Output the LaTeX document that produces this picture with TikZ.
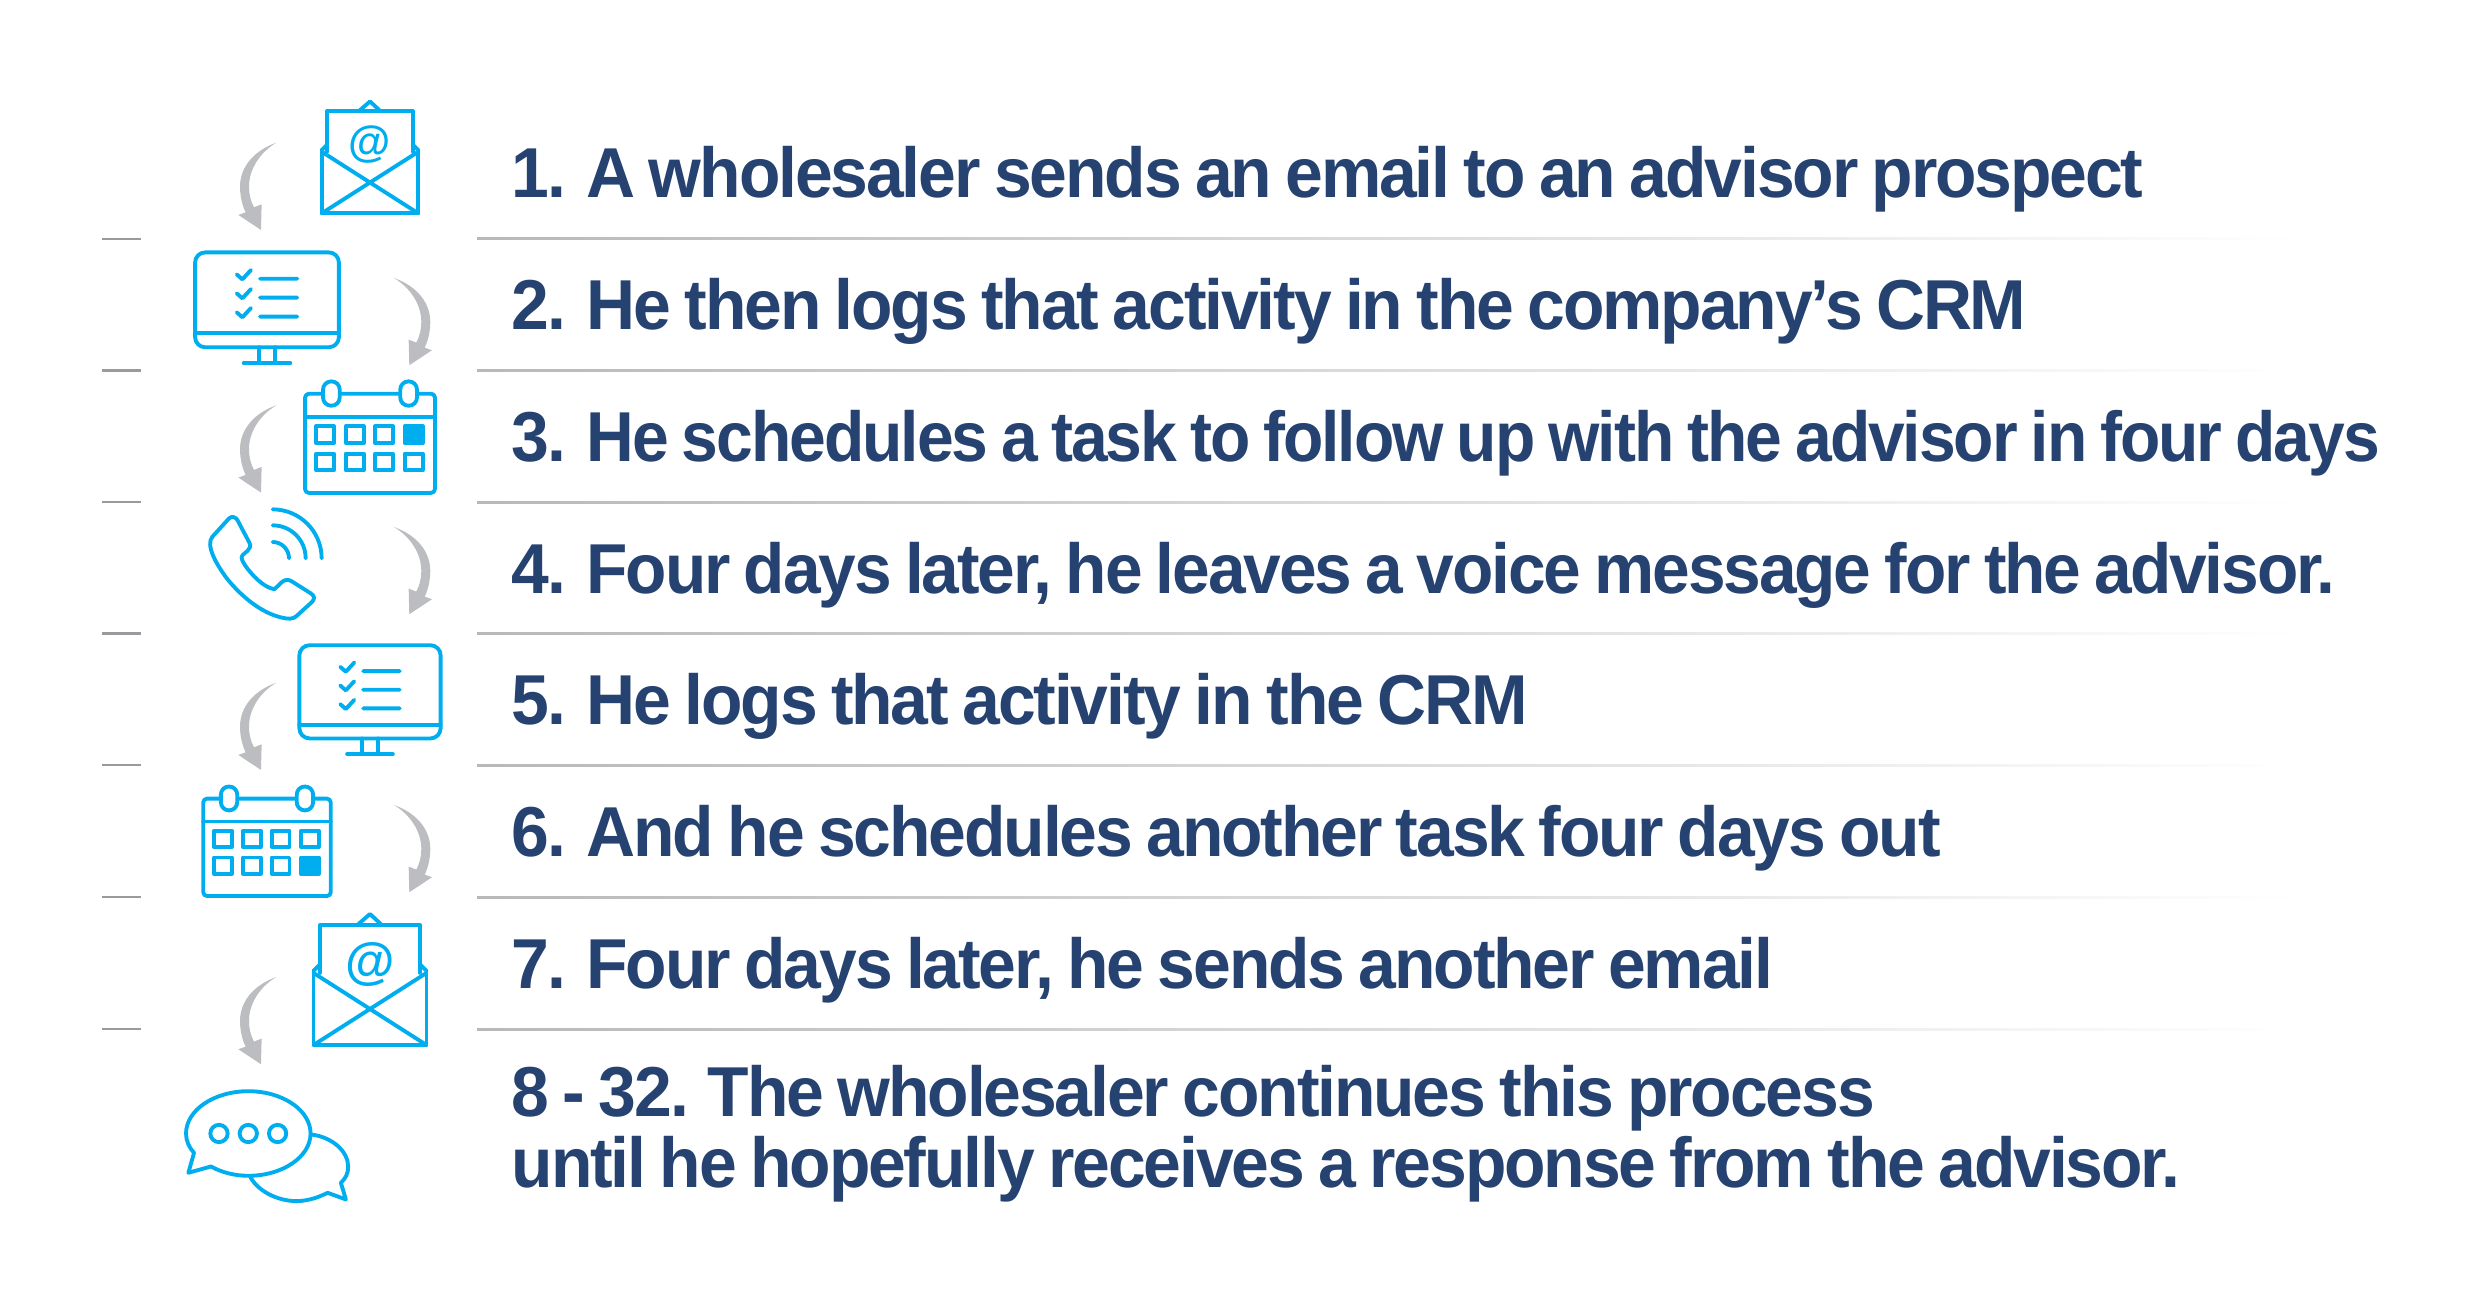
\documentclass[tikz,border=0pt]{standalone}
\usepackage{fontspec}
\usepackage{graphicx}
\setmainfont{Liberation Sans}
\newfontfamily\stepfont[FakeStretch=0.96,LetterSpace=-3,WordSpace=0.8]{Liberation Sans}
\usetikzlibrary{positioning}
\definecolor{navy}{HTML}{254270}
\definecolor{iconblue}{HTML}{00AEEF}
\definecolor{bendgray}{HTML}{BCBDC0}
\definecolor{tickgray}{HTML}{9A9A9E}
\newcommand{\stepno}[1]{\makebox[21.3pt][l]{#1}}
\tikzset{
 steplabel/.style = {
    inner sep=0pt, anchor=base west, text=navy,
    font=\stepfont\bfseries\fontsize{20.1}{20.2}\selectfont},
 icon/.style = {
    draw=iconblue, line width=1.1pt, line join=round, line cap=round},
 atsign/.style = {
    inner sep=0pt, transform shape, text=iconblue,
    font=\bfseries\fontsize{37}{37}\selectfont},
 pics/rulerow/.style = {code={
    \draw[tickgray, line width=0.65pt] (102,0) -- (141,0);
    \shade[left color=tickgray!70!white, right color=white] (477,-1) rectangle (2300,1);
 }},
 pics/mail/.style = {code={
    \draw[icon] (-145,-95) -- (-145,95) -- (145,95) -- (145,-95);
    \draw[icon] (-145,-90) -- (145,95) (145,-90) -- (-145,95);
    \draw[icon] (-128,-90) -- (-128,-213) -- (128,-213) -- (128,-90);
    \draw[icon] (-128,-112) -- (-145,-95) (128,-112) -- (145,-95);
    \draw[icon] (-30,-215) -- (0,-241) -- (28,-215);
    \node[atsign] (at) at (0,-112) {@};
 }},
 pics/screen/.style = {code={
    \draw[icon, rounded corners=2.9pt] (-216,-143) rectangle (216,142);
    \draw[icon] (-216,100) -- (216,100);
    \draw[icon] (-24,142) -- (-24,190) (24,142) -- (24,190);
    \draw[icon] (-70,190) -- (70,190);
    \draw[icon] (-91,-77) -- (-74,-62) -- (-48,-90) (-21,-64) -- (91,-64);
    \draw[icon] (-91,-20) -- (-74,-5) -- (-48,-33) (-21,-7) -- (91,-7);
    \draw[icon] (-91,37) -- (-74,52) -- (-48,24) (-21,50) -- (91,50);
 }},
 pics/calendar/.style 2 args = {code={
    \draw[icon, rounded corners=1.1pt] (-195,-148) rectangle (195,150);
    \draw[icon] (-195,-78) -- (195,-78);
    \draw[icon, fill=white, rounded corners=2.3pt] (-141,-185) rectangle (-91,-112);
    \draw[icon, fill=white, rounded corners=2.3pt] (91,-185) rectangle (141,-112);
    \draw[icon] (-162,-50) rectangle (-108,0);
    \draw[icon] (-73,-50) rectangle (-19,0);
    \draw[icon] (15,-50) rectangle (69,0);
    \draw[icon] (104,-50) rectangle (158,0);
    \draw[icon] (-162,32) rectangle (-108,82);
    \draw[icon] (-73,32) rectangle (-19,82);
    \draw[icon] (15,32) rectangle (69,82);
    \draw[icon] (104,32) rectangle (158,82);
    \fill[iconblue] (#1,#2) rectangle ++(54,50);
 }},
 pics/phone/.style = {code={
    \draw[icon] (-163,-80) -- (-113,-135) .. controls (-105,-143) and (-92,-138) .. (-88,-130)
       -- (-52,-62) .. controls (-47,-52) and (-50,-44) .. (-57,-38)
       -- (-72,-25) .. controls (-80,-18) and (-72,-5) .. (-65,6)
       .. controls (-45,35) and (-10,72) .. (23,78)
       -- (45,57) .. controls (55,48) and (65,48) .. (75,54)
       -- (132,90) .. controls (145,98) and (145,108) .. (135,117)
       -- (90,158) .. controls (80,168) and (65,168) .. (45,163)
       .. controls (-20,148) and (-80,95) .. (-120,45)
       .. controls (-150,5) and (-185,-55) .. (-163,-80) -- cycle;
    \draw[icon] (18,-64) .. controls (45,-64) and (67,-42) .. (67,-15);
    \draw[icon] (18,-114) .. controls (73,-114) and (117,-70) .. (117,-15);
    \draw[icon] (18,-162) .. controls (99,-162) and (165,-96) .. (165,-15);
 }},
 pics/chat/.style = {code={
    \draw[icon] (-163,58) -- (-180,118) -- (-112,99)
       .. controls (-80,117) and (-40,127) .. (0,127)
       .. controls (103,127) and (187,70) .. (187,0)
       .. controls (187,-70) and (103,-127) .. (0,-127)
       .. controls (-103,-127) and (-187,-70) .. (-187,0)
       .. controls (-187,22) and (-178,42) .. (-163,58) -- cycle;
    \draw[icon] (-88,0) circle [radius=26];
    \draw[icon] (0,0) circle [radius=26];
    \draw[icon] (88,0) circle [radius=26];
    \draw[icon] (190,3) .. controls (255,12) and (300,55) .. (300,100)
       .. controls (300,120) and (292,135) .. (278,148) -- (293,198) -- (238,178)
       .. controls (215,190) and (180,203) .. (145,203)
       .. controls (85,203) and (25,170) .. (5,128);
 }},
 pics/bend/.style = {code={
    \fill[bendgray] (0,0) .. controls (-70,25) and (-109,75) .. (-109,132)
       .. controls (-109,160) and (-102,190) .. (-92,209) -- (-114,217) -- (-46,262)
       -- (-44,185) -- (-67,194) .. controls (-77,175) and (-82,155) .. (-82,132)
       .. controls (-82,80) and (-50,30) .. (0,0) -- cycle;
 }},
}
\begin{document}
\begin{tikzpicture}[x=0.01cm, y=-0.01cm]
    \useasboundingbox (0,0) rectangle (2478,1300);

    % Place nodes
    \node [steplabel]                                                at (511,198) (one)   {\stepno{1.}A wholesaler sends an email to an advisor prospect};
    \node [steplabel, below=1.316cm of one.base west, anchor=base west]   (two)   {\stepno{2.}He then logs that activity in the company’s CRM};
    \node [steplabel, below=1.316cm of two.base west, anchor=base west]   (three) {\stepno{3.}\scalebox{0.973}[1]{He schedules a task to follow up with the advisor in four days}};
    \node [steplabel, below=1.316cm of three.base west, anchor=base west] (four)  {\stepno{4.}\scalebox{0.997}[1]{Four days later, he leaves a voice message for the advisor.}};
    \node [steplabel, below=1.316cm of four.base west, anchor=base west]  (five)  {\stepno{5.}He logs that activity in the CRM};
    \node [steplabel, below=1.316cm of five.base west, anchor=base west]  (six)   {\stepno{6.}And he schedules another task four days out};
    \node [steplabel, below=1.316cm of six.base west, anchor=base west]   (seven) {\stepno{7.}Four days later, he sends another email};
    \node [steplabel, below=1.994cm of seven.base west, anchor=base west, align=left] (eight)
        {8 - 32. The wholesaler continues this process\\until he hopefully receives a response from the advisor.};

    % Rules
    \pic at (0,239) {rulerow};
    \pic at (0,370.5) {rulerow};
    \pic at (0,502) {rulerow};
    \pic at (0,633.5) {rulerow};
    \pic at (0,765) {rulerow};
    \pic at (0,897) {rulerow};
    \pic at (0,1029) {rulerow};

    % Icons
    \pic[scale=0.333] (mailone) at (370,181.7) {mail};
    \pic[scale=0.333] at (267,300) {screen};
    \pic[scale=0.333] at (370,443) {calendar={104}{-50}};
    \pic[scale=0.333] at (266.7,563.3) {phone};
    \pic[scale=0.327] at (370,692) {screen};
    \pic[scale=0.327] at (267,847) {calendar={104}{32}};
    \pic[scale=0.39] (mailtwo) at (370,1008) {mail};
    \pic[scale=0.333] at (248.3,1133.5) {chat};

    % Arrows
    \pic[scale=0.333] at (276.3,142.7) {bend};
    \pic[xscale=-0.333, yscale=0.333] at (394,278) {bend};
    \pic[scale=0.333] at (276.3,405.3) {bend};
    \pic[xscale=-0.333, yscale=0.333] at (394,527) {bend};
    \pic[scale=0.333] at (276.3,682.7) {bend};
    \pic[xscale=-0.333, yscale=0.333] at (394,805) {bend};
    \pic[scale=0.333] at (276.3,977) {bend};
\end{tikzpicture}
\end{document}
